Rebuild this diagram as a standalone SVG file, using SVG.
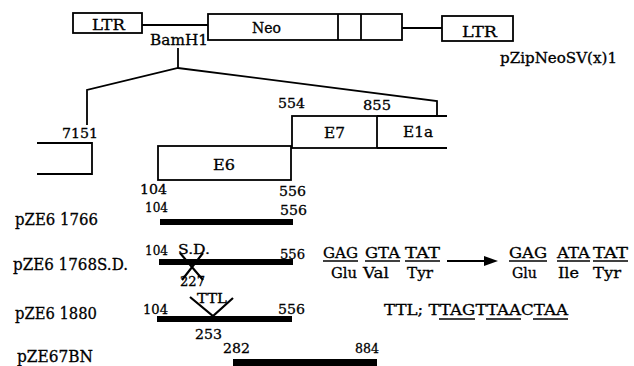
<svg xmlns="http://www.w3.org/2000/svg" width="634" height="366" viewBox="0 0 634 366">
<style>
text{font-family:"DejaVu Serif","Liberation Serif",serif;fill:#000;stroke:#000;stroke-width:0.3}
.s{font-size:13.5px}
.m{font-size:14.5px}
.l{font-size:16.5px}
.box{fill:#fff;stroke:#000;stroke-width:1.8}
.ln{fill:none;stroke:#000;stroke-width:1.8}
.bar{fill:#000}
.ul{stroke:#000;stroke-width:1.3}
.x{stroke:#000;stroke-width:2.2;fill:none}
</style>
<rect width="634" height="366" fill="#fff"/>
<g id="connectors">
<line x1="142" y1="25" x2="208" y2="25" class="ln"/>
<line x1="402" y1="28" x2="442" y2="28" class="ln"/>
<polyline points="178,48 178,68" class="ln"/>
<polyline points="87,125 87,90 178,68 437,101 437,116" class="ln"/>
<line x1="447" y1="261" x2="486" y2="261" class="ln"/>
<polygon points="484,256 498,261 484,266" fill="#000"/>
</g>
<g id="ltr1"><rect x="73" y="13" width="69" height="20" class="box"/><text x="92" y="30" class="m" textLength="33" lengthAdjust="spacingAndGlyphs">LTR</text></g>
<g id="neo"><rect x="208" y="14" width="194" height="26" class="box"/><line x1="338" y1="14" x2="338" y2="40" class="ln"/><line x1="361" y1="14" x2="361" y2="40" class="ln"/><text x="252" y="33" class="m" textLength="29" lengthAdjust="spacingAndGlyphs">Neo</text></g>
<g id="ltr2"><rect x="442" y="16" width="71" height="25" class="box"/><text x="462" y="37" class="m" textLength="35" lengthAdjust="spacingAndGlyphs">LTR</text></g>
<g id="label-bamh1"><text x="150" y="45" class="m" textLength="58" lengthAdjust="spacingAndGlyphs">BamH1</text></g>
<g id="label-vector"><text x="500" y="63" class="m" textLength="117" lengthAdjust="spacingAndGlyphs">pZipNeoSV(x)1</text></g>
<g id="left-box"><path d="M37,143 H92 V174 H37" class="ln"/><text x="62" y="138" class="s" textLength="36" lengthAdjust="spacingAndGlyphs">7151</text></g>
<g id="e6"><rect x="158" y="146" width="133" height="34" class="box"/><text x="213" y="170" class="m" textLength="22" lengthAdjust="spacingAndGlyphs">E6</text>
<text x="140" y="194" class="s" textLength="27" lengthAdjust="spacingAndGlyphs">104</text><text x="279" y="196" class="s" textLength="27" lengthAdjust="spacingAndGlyphs">556</text></g>
<g id="e7"><rect x="292" y="116" width="85" height="32" class="box"/><text x="324" y="138" class="m" textLength="21" lengthAdjust="spacingAndGlyphs">E7</text>
<text x="278" y="108" class="s" textLength="27" lengthAdjust="spacingAndGlyphs">554</text><text x="363" y="110" class="s" textLength="28" lengthAdjust="spacingAndGlyphs">855</text></g>
<g id="e1a"><path d="M377,116 H447 M377,148 H447" class="ln"/><text x="403" y="137" class="m" textLength="30" lengthAdjust="spacingAndGlyphs">E1a</text></g>
<g id="pze6-1766"><text x="15" y="225" class="l" textLength="83" lengthAdjust="spacingAndGlyphs">pZE6 1766</text>
<rect x="160" y="219" width="133" height="6" class="bar"/>
<text x="145" y="212" class="s" textLength="23" lengthAdjust="spacingAndGlyphs">104</text><text x="280" y="215" class="s" textLength="27" lengthAdjust="spacingAndGlyphs">556</text></g>
<g id="pze6-1768sd"><text x="13" y="270" class="l" textLength="115" lengthAdjust="spacingAndGlyphs">pZE6 1768S.D.</text>
<rect x="159" y="259" width="134" height="6" class="bar"/>
<text x="145" y="255" class="s" textLength="23" lengthAdjust="spacingAndGlyphs">104</text>
<text x="178" y="254" class="s" textLength="32" lengthAdjust="spacingAndGlyphs">S.D.</text>
<text x="280" y="259" class="s" textLength="25" lengthAdjust="spacingAndGlyphs">556</text>
<path d="M180,253 L203,280 M203,253 L182,280" class="x"/>
<text x="180" y="286" class="s" textLength="25" lengthAdjust="spacingAndGlyphs">227</text></g>
<g id="mutation">
<text x="323" y="258" class="m" textLength="35" lengthAdjust="spacingAndGlyphs">GAG</text>
<text x="365" y="258" class="m" textLength="35" lengthAdjust="spacingAndGlyphs">GTA</text>
<text x="405" y="258" class="m" textLength="35" lengthAdjust="spacingAndGlyphs">TAT</text>
<line x1="323" y1="261" x2="358" y2="261" class="ul"/><line x1="365" y1="261" x2="400" y2="261" class="ul"/><line x1="405" y1="261" x2="440" y2="261" class="ul"/>
<text x="331" y="278" class="m" textLength="26" lengthAdjust="spacingAndGlyphs">Glu</text>
<text x="363" y="278" class="m" textLength="26" lengthAdjust="spacingAndGlyphs">Val</text>
<text x="407" y="278" class="m" textLength="26" lengthAdjust="spacingAndGlyphs">Tyr</text>
<text x="509" y="258" class="m" textLength="38" lengthAdjust="spacingAndGlyphs">GAG</text>
<text x="557" y="258" class="m" textLength="33" lengthAdjust="spacingAndGlyphs">ATA</text>
<text x="593" y="258" class="m" textLength="35" lengthAdjust="spacingAndGlyphs">TAT</text>
<line x1="509" y1="261" x2="547" y2="261" class="ul"/><line x1="557" y1="261" x2="590" y2="261" class="ul"/><line x1="593" y1="261" x2="628" y2="261" class="ul"/>
<text x="512" y="278" class="m" textLength="25" lengthAdjust="spacingAndGlyphs">Glu</text>
<text x="558" y="278" class="m" textLength="21" lengthAdjust="spacingAndGlyphs">Ile</text>
<text x="593" y="278" class="m" textLength="28" lengthAdjust="spacingAndGlyphs">Tyr</text>
</g>
<g id="pze6-1880"><text x="15" y="319" class="l" textLength="82" lengthAdjust="spacingAndGlyphs">pZE6 1880</text>
<rect x="157" y="316" width="135" height="6" class="bar"/>
<text x="143" y="314" class="s" textLength="25" lengthAdjust="spacingAndGlyphs">104</text>
<text x="278" y="314" class="s" textLength="27" lengthAdjust="spacingAndGlyphs">556</text>
<path d="M190,297 L213,316 L233,298" class="x"/>
<text x="197" y="303" class="s" textLength="30" lengthAdjust="spacingAndGlyphs">TTL</text>
<text x="195" y="339" class="s" textLength="27" lengthAdjust="spacingAndGlyphs">253</text></g>
<g id="ttl-seq">
<text x="384" y="315" class="m" textLength="184" lengthAdjust="spacingAndGlyphs">TTL; TTAGTTAACTAA</text>
<line x1="439" y1="319" x2="475" y2="319" class="ul"/><line x1="486" y1="319" x2="521" y2="319" class="ul"/><line x1="533" y1="319" x2="568" y2="319" class="ul"/>
</g>
<g id="pze67bn"><text x="17" y="362" class="l" textLength="76" lengthAdjust="spacingAndGlyphs">pZE67BN</text>
<rect x="233" y="359" width="144" height="7" class="bar"/>
<text x="223" y="353" class="s" textLength="27" lengthAdjust="spacingAndGlyphs">282</text>
<text x="355" y="353" class="s" textLength="24" lengthAdjust="spacingAndGlyphs">884</text></g>
</svg>
